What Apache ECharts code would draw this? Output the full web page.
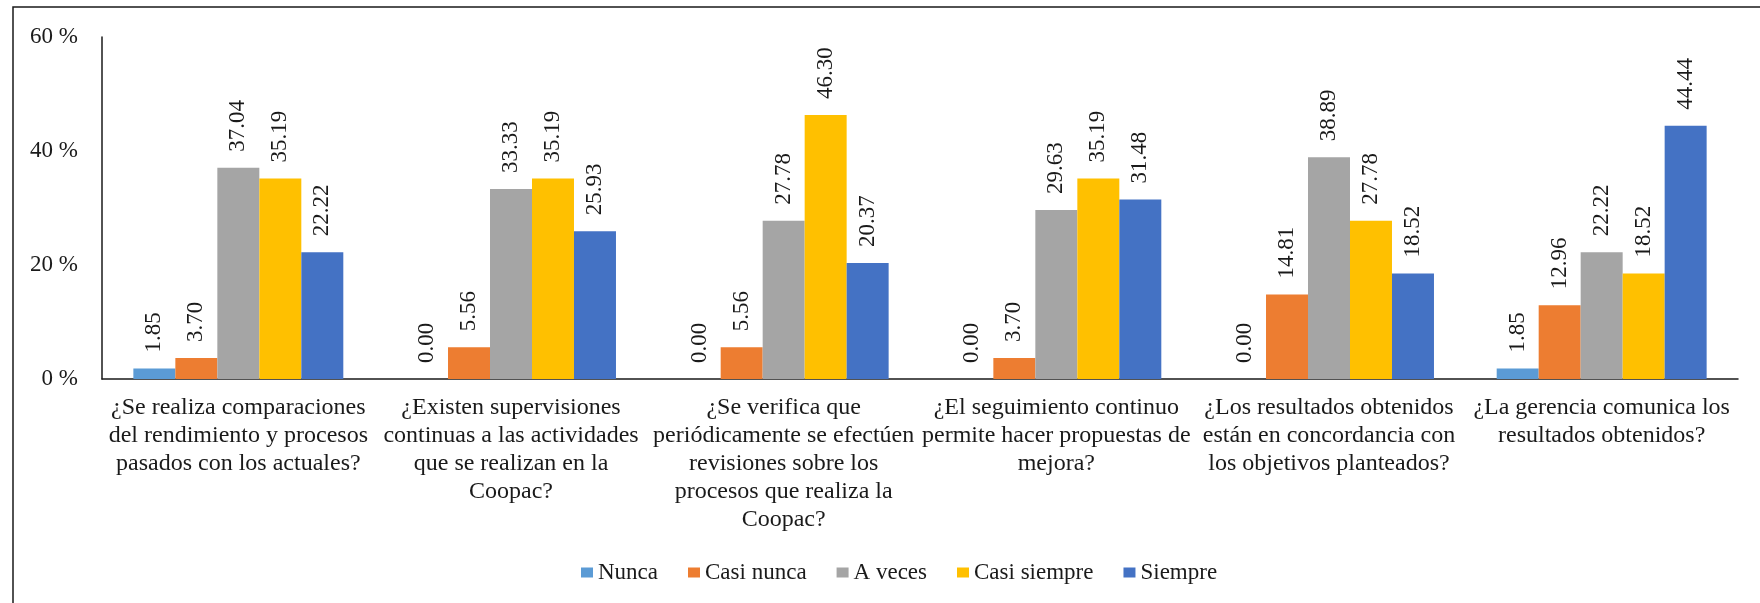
<!DOCTYPE html>
<html>
<head>
<meta charset="utf-8">
<script src="https://cdn.jsdelivr.net/npm/echarts@6/dist/echarts.min.js"></script>
<style>
  html, body { margin: 0; padding: 0; background: #fff; }
  #chart { width: 1760px; height: 603px; }
</style>
</head>
<body>
<div id="chart"></div>
<script>
var categories = [
  "¿Se realiza comparaciones\ndel rendimiento y procesos\npasados con los actuales?",
  "¿Existen supervisiones\ncontinuas a las actividades\nque se realizan en la\nCoopac?",
  "¿Se verifica que\nperiódicamente se efectúen\nrevisiones sobre los\nprocesos que realiza la\nCoopac?",
  "¿El seguimiento continuo\npermite hacer propuestas de\nmejora?",
  "¿Los resultados obtenidos\nestán en concordancia con\nlos objetivos planteados?",
  "¿La gerencia comunica los\nresultados obtenidos?"
];
var seriesNames = ["Nunca", "Casi nunca", "A veces", "Casi siempre", "Siempre"];
var nunca = [1.85, 0.00, 0.00, 0.00, 0.00, 1.85];
var casiNunca = [3.70, 5.56, 5.56, 3.70, 14.81, 12.96];
var aVeces = [37.04, 33.33, 27.78, 29.63, 38.89, 22.22];
var casiSiempre = [35.19, 35.19, 46.30, 35.19, 27.78, 18.52];
var siempre = [22.22, 25.93, 20.37, 31.48, 18.52, 44.44];
var yTicks = [0, 20, 40, 60];

var colors = ["#5B9BD5", "#ED7D31", "#A5A5A5", "#FFC000", "#4472C4"];
var font = "'Liberation Serif', 'Times New Roman', serif";

var chart = echarts.init(document.getElementById("chart"));

function makeSeries(name, data, i) {
  return {
    name: name,
    type: "bar",
    data: data,
    barGap: "0%",
    barCategoryGap: "23%",
    itemStyle: { color: colors[i] },
    label: {
      show: true,
      position: "top",
      rotate: 90,
      align: "left",
      verticalAlign: "middle",
      distance: 16,
      fontFamily: font,
      fontSize: 23,
      color: "#1a1a1a",
      formatter: function (p) { return p.value.toFixed(2); }
    }
  };
}

var option = {
  animation: false,
  color: colors,
  graphic: [{
    type: "rect",
    shape: { x: 13, y: 7, width: 1800, height: 700 },
    style: { fill: null, stroke: "#1a1a1a", lineWidth: 1.5 },
    silent: true
  }],
  legend: {
    data: seriesNames,
    left: 576,
    top: 556,
    itemWidth: 12,
    itemHeight: 10,
    itemGap: 30,
    icon: "rect",
    textStyle: { fontFamily: font, fontSize: 23, color: "#1a1a1a" }
  },
  grid: { left: 102, right: 22, top: 37, bottom: 224 },
  xAxis: {
    type: "category",
    data: categories,
    axisLine: { lineStyle: { color: "#1a1a1a", width: 1.5 } },
    axisTick: { show: false },
    axisLabel: {
      interval: 0,
      margin: 15,
      fontFamily: font,
      fontSize: 24,
      lineHeight: 28,
      color: "#1a1a1a",
      align: "center"
    }
  },
  yAxis: {
    type: "value",
    min: yTicks[0],
    max: yTicks[yTicks.length - 1],
    interval: yTicks[1] - yTicks[0],
    axisLine: { show: true, lineStyle: { color: "#1a1a1a", width: 1.5 } },
    axisTick: { show: false },
    splitLine: { show: false },
    axisLabel: {
      margin: 24,
      fontFamily: font,
      fontSize: 23,
      color: "#1a1a1a",
      formatter: "{value} %"
    }
  },
  series: [
    makeSeries(seriesNames[0], nunca, 0),
    makeSeries(seriesNames[1], casiNunca, 1),
    makeSeries(seriesNames[2], aVeces, 2),
    makeSeries(seriesNames[3], casiSiempre, 3),
    makeSeries(seriesNames[4], siempre, 4)
  ]
};

chart.setOption(option);
</script>
</body>
</html>
